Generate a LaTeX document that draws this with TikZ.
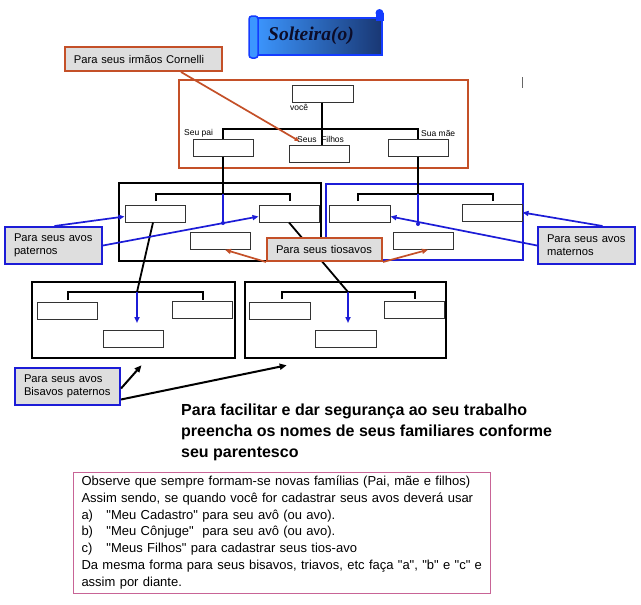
\documentclass[tikz,border=0pt]{standalone}
\usepackage{fontspec}
\setmainfont{Liberation Sans}[Ligatures=TeXOff]
\newfontfamily\titlefont{Liberation Serif}
\usetikzlibrary{arrows.meta}
\definecolor{orng}{RGB}{196,80,40}
\definecolor{lblgray}{RGB}{222,222,222}
\definecolor{blu}{RGB}{28,28,215}
\definecolor{pnk}{RGB}{200,100,150}
\definecolor{scrollL}{RGB}{60,150,255}
\definecolor{scrollR}{RGB}{25,55,115}
\definecolor{scrollB}{RGB}{20,60,255}
\definecolor{titletxt}{RGB}{12,12,40}
\begin{document}
\begin{tikzpicture}[x=1pt,y=-1pt,
  cell/.style={draw=black!80, line width=1pt, fill=white, minimum width=60pt, minimum height=16.5pt, inner sep=0pt},
  frame/.style={line width=2.6pt, inner sep=0pt},
  lbl/.style={fill=lblgray, line width=2pt, inner xsep=9pt, inner ysep=0pt, align=left, font=\fontsize{11.2}{13}\selectfont},
  tag/.style={font=\fontsize{8.5}{10}\selectfont, inner sep=0pt, anchor=west},
  bar/.style={line width=2pt},
  blink/.style={draw=blu, line width=1.7pt, -{Triangle[length=6pt,width=5pt]}},
  olink/.style={draw=orng, line width=1.7pt, -{Triangle[length=6pt,width=5pt]}},
  klink/.style={draw=black, line width=2pt, -{Triangle[length=7pt,width=6pt]}},
  kline/.style={draw=black, line width=1.8pt}
]
\useasboundingbox (0,0) rectangle (641,605);
\fill[white] (0,0) rectangle (641,605);

% ---- title scroll ----
\shade[left color=scrollL, right color=scrollR] (255,18) rectangle (382,55);
\draw[scrollB, line width=2.5pt] (255,18) rectangle (382,55);
\draw[scrollB, fill=scrollL, line width=1.5pt, rounded corners=3pt] (249,16) rectangle (258,58);
\draw[scrollB, fill=scrollB, line width=1pt] (376,13) rectangle (383,20);
\fill[scrollB] (379.5,13) circle (4pt);
\node[font=\titlefont\bfseries\itshape\fontsize{19.5}{22}\selectfont, text=titletxt, inner sep=0pt] (title) at (311,36) {Solteira(o)};

% ---- frames ----
\node[frame, draw=orng, minimum width=289pt, minimum height=88pt] (topf) at (323.5,124) {};
\node[frame, draw=black, minimum width=202pt, minimum height=78pt] (patf) at (220,222) {};
\node[frame, draw=blu, minimum width=197pt, minimum height=76pt] (matf) at (424.5,222) {};
\node[frame, draw=black, minimum width=203pt, minimum height=76pt] (llf) at (133.5,320) {};
\node[frame, draw=black, minimum width=201pt, minimum height=76pt] (lrf) at (345.5,320) {};

% ---- top family ----
\node[cell, minimum width=61pt, minimum height=17pt] (voce) at (322.5,93.5) {};
\node[cell] (pai) at (223,148) {};
\node[cell] (filhos) at (319,154) {};
\node[cell] (mae) at (418,148) {};
\node[tag] (tvoce) at (290,107) {você};
\node[tag] (tpai) at (184,133) {Seu pai};
\node[tag] (tfilhos) at (297,139) {Seus\ \ Filhos};
\node[tag] (tmae) at (421,133) {Sua mãe};
\draw[bar] (pai.north) -- (pai.north |- 0,129) -- (mae.north |- 0,129) -- (mae.north);
\draw[bar] (voce.south -| 322,0) -- (filhos.north -| 322,0);

% ---- paternal grandparents ----
\node[cell, minimum height=17pt] (patL) at (155,213.5) {};
\node[cell, minimum height=17pt] (patR) at (289,213.5) {};
\node[cell] (patB) at (220,241) {};
\coordinate (pc) at (223,194);
\coordinate (pe) at (223,223);
\draw[bar] (156,201) -- (156,194) -- (290,194) -- (290,201);
\draw[kline] (pai.south) -- (pc);
\draw[blu, line width=1.7pt] (pc) -- (pe);
\fill[blu] (pe) circle (2pt);

% ---- maternal grandparents ----
\node[cell, minimum width=61pt, minimum height=17pt] (matL) at (359.5,213.5) {};
\node[cell, minimum height=17pt] (matR) at (492,212.5) {};
\node[cell] (matB) at (423,241) {};
\coordinate (mc) at (418,194);
\coordinate (me) at (418,224);
\draw[bar] (358,201) -- (358,194) -- (493,194) -- (493,201);
\draw[kline] (mae.south) -- (mc);
\draw[blu, line width=1.7pt] (mc) -- (me);
\fill[blu] (me) circle (2pt);

% ---- lower left family ----
\node[cell] (llL) at (67,311) {};
\node[cell] (llR) at (202,310) {};
\node[cell] (llB) at (133,339) {};
\coordinate (llc) at (137,292);
\coordinate (llt) at (137,323);
\draw[bar] (68,300) -- (68,292) -- (203,292) -- (203,300);
\draw[blink] (llc) -- (llt);
\draw[kline] ([xshift=-2pt]patL.south) -- (llc);

% ---- lower right family ----
\node[cell, minimum width=61pt] (lrL) at (279.5,311) {};
\node[cell] (lrR) at (414,310) {};
\node[cell, minimum width=61pt] (lrB) at (345.5,339) {};
\coordinate (lrc) at (348,292);
\coordinate (lrt) at (348,323);
\draw[bar] (282,299) -- (282,292) -- (415,292) -- (415,299);
\draw[blink] (lrc) -- (lrt);
\draw[kline] (patR.south) -- (lrc);

% ---- labels ----
\node[lbl, draw=orng, text width=139pt, minimum height=24pt] (L1) at (143.5,59) {Para seus irmãos Cornelli};
\node[lbl, draw=blu, text width=79pt, minimum height=37pt] (L2) at (53.5,245.5) {Para seus avos\\paternos};
\node[lbl, draw=orng, text width=97pt, minimum height=23pt] (L3) at (324.5,249.5) {Para seus tiosavos};
\node[lbl, draw=blu, text width=79pt, minimum height=37pt] (L4) at (586.5,245.5) {Para seus avos\\maternos};
\node[lbl, draw=blu, text width=87pt, minimum height=37pt] (L5) at (67.5,386.5) {Para seus avos\\Bisavos paternos};

% ---- label connectors ----
\draw[orng, line width=1.7pt, -{Triangle[length=5pt,width=4pt]}] ([xshift=-42pt]L1.south east) -- ([xshift=11pt,yshift=4pt]filhos.north west);
\draw[blink] ([xshift=1pt]L2.north) -- ([yshift=-3pt]patL.west);
\draw[blink] (L2.east) -- ([yshift=-3pt]patR.west);
\draw[blink] ([xshift=16pt]L4.north) -- (matR.east);
\draw[blink] (L4.west) -- ([yshift=-3pt]matL.east);
\draw[olink] (L3.south west) -- ([xshift=5pt]patB.south);
\draw[olink] (L3.south east) -- ([xshift=5pt]matB.south);
\draw[klink] ([yshift=-2pt]L5.east) -- ([xshift=8pt,yshift=-6pt]llf.south);
\draw[klink] ([yshift=-13pt]L5.east) -- ([xshift=43pt,yshift=-6pt]lrf.south west);

% cursor mark
\draw[black!60, line width=1pt] (522,77) -- (522,88);

% ---- texts ----
\node[anchor=north west, inner sep=0pt, align=left, font=\bfseries\fontsize{16}{21}\selectfont] (big) at (181,404)
  {Para facilitar e dar segurança ao seu trabalho\\preencha os nomes de seus familiares conforme\\seu parentesco};

\node[draw=pnk, line width=1pt, minimum width=417pt, minimum height=121pt, inner xsep=8.5pt, text width=400pt, align=left,
  font=\fontsize{13}{16.8}\selectfont] (note) at (281.5,532.5)
  {\mbox{Observe que sempre formam-se novas famílias (Pai, mãe e filhos)}\\
   \mbox{Assim sendo, se quando você for cadastrar seus avos deverá usar}\\
   \mbox{\makebox[25pt][l]{a)}"Meu Cadastro" para seu avô (ou avo).}\\
   \mbox{\makebox[25pt][l]{b)}"Meu Cônjuge"\ \ para seu avô (ou avo).}\\
   \mbox{\makebox[25pt][l]{c)}"Meus Filhos" para cadastrar seus tios-avo}\\
   \mbox{Da mesma forma para seus bisavos, triavos, etc faça "a", "b" e "c" e}\\
   \mbox{assim por diante.}};
\end{tikzpicture}
\end{document}
